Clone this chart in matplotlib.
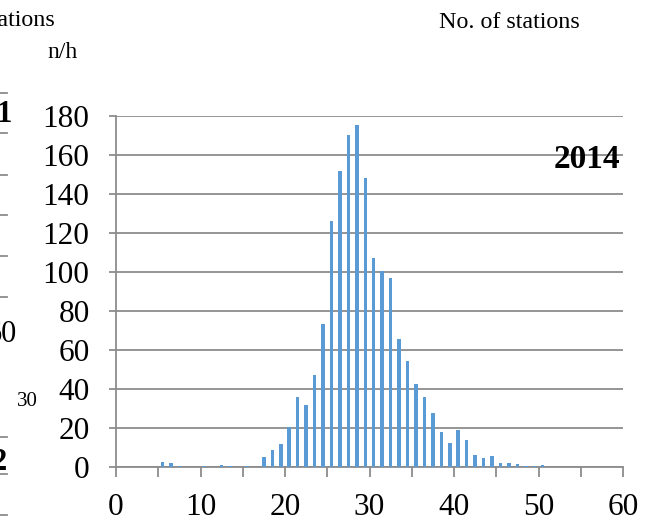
import matplotlib.pyplot as plt
import numpy as np

# histogram of stations by value (one bin per unit, 0..59)
bins = list(range(60))
counts = [0, 0, 0, 0.2, 0, 2.7, 2.2, 0.3, 0.2, 0.2,
          0.3, 0.2, 1.2, 0.3, 0.2, 0.3, 0, 5.0, 8.6, 12.0,
          20.7, 35.7, 31.7, 47.0, 73.4, 126, 152, 170.5, 175.4, 148.2,
          107.3, 100.5, 97.1, 65.5, 54.5, 42.7, 35.8, 27.6, 17.7, 12.5,
          18.9, 14.1, 6.3, 4.8, 5.5, 2.1, 1.9, 1.5, 0.7, 0.3,
          0.9, 0.2, 0.2, 0.2, 0.2, 0.2, 0, 0, 0, 0]
yticks = [0, 20, 40, 60, 80, 100, 120, 140, 160, 180]
xticks_major = [0, 10, 20, 30, 40, 50, 60]

plt.rcParams['font.family'] = ['Liberation Serif', 'DejaVu Serif']

fig = plt.figure(figsize=(6.7, 5.22), dpi=100)
ax = fig.add_axes([116/670, 55/522, 507/670, 351/522])

grid_col = '#8c8c8c'
ax.bar(np.array(bins) + 0.5, counts, width=0.42, color='#5b9bd5', zorder=3)

ax.set_xlim(0, 60)
ax.set_ylim(0, 180)
ax.set_yticks(yticks)
ax.set_xticks(xticks_major)
ax.set_xticks(range(0, 61, 5), minor=True)
ax.yaxis.grid(True, color=grid_col, linewidth=1.3)
ax.set_axisbelow(True)
for s in ['top', 'right']:
    ax.spines[s].set_visible(False)
for s in ['left', 'bottom']:
    ax.spines[s].set_color(grid_col)
    ax.spines[s].set_linewidth(1.3)
ax.tick_params(axis='y', length=5, width=1.3, color=grid_col, labelsize=22.5, pad=14)
ax.tick_params(axis='x', which='both', length=7, width=1.3, color=grid_col, labelsize=22.5, pad=12)

ax.text(0.995, 0.877, '2014', transform=ax.transAxes, ha='right', va='center',
        fontsize=24, fontweight='bold')

# texts around the plot (parts of the neighbouring chart are cut off)
fig.text(580/670, 1 - 22/522, 'No. of stations', ha='right', va='center', fontsize=17.3)
fig.text(55/670, 1 - 20/522, 'No. of stations', ha='right', va='center', fontsize=17.3)
fig.text(63/670, 1 - 52/522, 'n/h', ha='center', va='center', fontsize=17)
fig.text(12/670, 1 - 114/522, '1', ha='right', va='center', fontsize=22, fontweight='bold')
fig.text(17/670, 1 - 334/522, '60', ha='right', va='center', fontsize=22)
fig.text(27/670, 1 - 402/522, '30', ha='center', va='center', fontsize=15)
fig.text(7/670, 1 - 462/522, '2', ha='right', va='center', fontsize=22, fontweight='bold')
for yy in [93, 133, 175, 215, 256, 297, 437, 474, 515]:
    fig.add_artist(plt.Line2D([0, 7/670], [1 - yy/522, 1 - yy/522], color=grid_col, linewidth=1.3))

plt.savefig('out.png', dpi=100)
plt.close()
